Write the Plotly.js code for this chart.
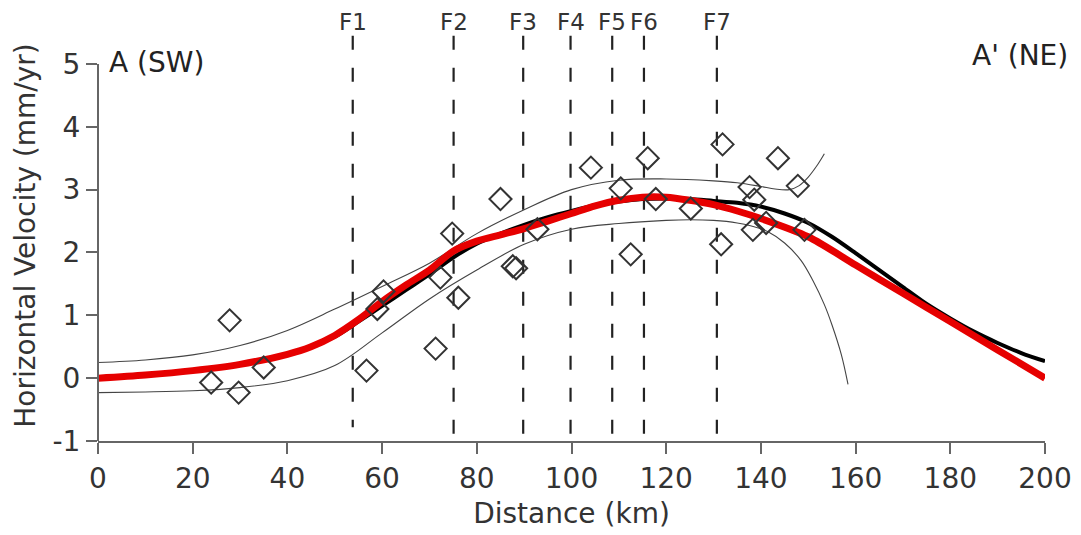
<!DOCTYPE html>
<html>
<head>
<meta charset="utf-8">
<script src="https://cdn.plot.ly/plotly-3.0.1.min.js"></script>
<style>html,body{margin:0;padding:0;background:#fff;}#chart{width:1081px;height:535px;}</style>
</head>
<body>
<div id="chart"></div>
<script>
// ---- data ----
var faultX = [53.8, 75.1, 89.8, 99.8, 108.6, 115.3, 130.7];
var faultLabels = ['F1', 'F2', 'F3', 'F4', 'F5', 'F6', 'F7'];
var faultBottom = [-0.78, -0.93, -0.93, -0.93, -0.93, -0.93, -0.93];
var faultTop = 5.45;

var obsX = [23.9, 27.8, 29.7, 35.0, 56.7, 59.0, 60.3, 71.3, 72.3, 74.8, 76.1, 85.0, 87.6, 88.3, 92.8, 104.1, 110.4, 112.5, 116.1, 117.8, 125.2, 131.6, 131.9, 137.6, 138.3, 138.6, 141.1, 143.6, 147.8, 149.2];
var obsY = [-0.07, 0.92, -0.23, 0.17, 0.12, 1.1, 1.38, 0.47, 1.6, 2.3, 1.28, 2.85, 1.78, 1.75, 2.37, 3.35, 3.02, 1.97, 3.5, 2.85, 2.7, 2.13, 3.72, 3.04, 2.36, 2.84, 2.47, 3.5, 3.06, 2.36];

var redX = [0, 10, 20, 30, 40, 45, 50, 55, 60, 65, 70, 75, 80, 85, 90, 95, 100, 105, 110, 115, 120, 125, 130, 135, 140, 150, 160, 170, 180, 190, 200];
var redY = [0, 0.05, 0.12, 0.22, 0.38, 0.5, 0.68, 0.93, 1.22, 1.48, 1.72, 2.02, 2.18, 2.28, 2.38, 2.5, 2.62, 2.74, 2.83, 2.88, 2.88, 2.83, 2.76, 2.66, 2.54, 2.25, 1.8, 1.35, 0.9, 0.45, 0];

var blackX = [0, 10, 20, 30, 40, 50, 55, 60, 65, 70, 75, 80, 85, 90, 95, 100, 105, 110, 115, 120, 125, 130, 135, 140, 145, 150, 155, 160, 165, 170, 175, 180, 185, 190, 195, 200];
var blackY = [0, 0.05, 0.12, 0.22, 0.38, 0.66, 0.9, 1.15, 1.4, 1.65, 1.92, 2.14, 2.3, 2.44, 2.56, 2.66, 2.75, 2.81, 2.85, 2.86, 2.85, 2.82, 2.79, 2.73, 2.62, 2.47, 2.25, 1.99, 1.72, 1.45, 1.18, 0.95, 0.74, 0.56, 0.4, 0.27];

var upX = [0, 10, 20, 30, 40, 50, 60, 70, 80, 90, 100, 110, 120, 130, 135, 140, 143, 146, 148, 150, 152, 153.4];
var upY = [0.25, 0.29, 0.37, 0.52, 0.76, 1.1, 1.46, 1.83, 2.3, 2.68, 3.0, 3.15, 3.17, 3.14, 3.11, 3.05, 3.01, 3.0, 3.06, 3.2, 3.4, 3.57];

var loX = [0, 10, 20, 30, 40, 50, 60, 70, 80, 90, 100, 110, 120, 125, 130, 135, 138, 141.5, 145, 148.5, 151, 153.4, 155, 157, 158.4];
var loY = [-0.23, -0.22, -0.2, -0.15, -0.04, 0.2, 0.72, 1.26, 1.72, 2.13, 2.37, 2.46, 2.51, 2.52, 2.51, 2.47, 2.42, 2.33, 2.15, 1.87, 1.55, 1.17, 0.85, 0.37, -0.1];

var xTicks = [0, 20, 40, 60, 80, 100, 120, 140, 160, 180, 200];
var yTicks = [-1, 0, 1, 2, 3, 4, 5];

// ---- traces ----
var FONT = 'DejaVu Sans, Arial, sans-serif';
var traces = [];
faultX.forEach(function (fx, i) {
  traces.push({
    x: [fx, fx], y: [faultTop, faultBottom[i]], mode: 'lines', type: 'scatter',
    line: {color: '#222', width: 2.2, dash: '14px,18px'}, hoverinfo: 'skip', showlegend: false
  });
});
traces.push({x: upX, y: upY, mode: 'lines', line: {color: '#444', width: 1.1, shape: 'spline', smoothing: 1}, showlegend: false});
traces.push({x: loX, y: loY, mode: 'lines', line: {color: '#444', width: 1.1, shape: 'spline', smoothing: 1}, showlegend: false});
traces.push({x: blackX, y: blackY, mode: 'lines', line: {color: '#000', width: 4, shape: 'spline', smoothing: 0.8}, showlegend: false});
traces.push({x: redX, y: redY, mode: 'lines', line: {color: '#e60000', width: 7, shape: 'spline', smoothing: 0.8}, showlegend: false});
traces.push({x: obsX, y: obsY, mode: 'markers', marker: {symbol: 'diamond-open', size: 17, color: '#333', line: {width: 2, color: '#333'}}, showlegend: false});

var annotations = faultX.map(function (fx, i) {
  return {x: fx, xref: 'x', y: 1.02, yref: 'paper', text: faultLabels[i], showarrow: false,
          xanchor: 'center', yanchor: 'middle', font: {family: FONT, size: 23, color: '#333'}};
});
annotations.push({x: 0.0095, xref: 'paper', y: 0.922, yref: 'paper', text: 'A (SW)', showarrow: false,
  xanchor: 'left', yanchor: 'middle', font: {family: FONT, size: 28, color: '#222'}});
annotations.push({x: 1.026, xref: 'paper', y: 0.937, yref: 'paper', text: "A' (NE)", showarrow: false,
  xanchor: 'right', yanchor: 'middle', font: {family: FONT, size: 28, color: '#222'}});

var layout = {
  width: 1081, height: 535,
  margin: {l: 98, r: 36, t: 30, b: 94, pad: 0},
  paper_bgcolor: '#fff', plot_bgcolor: '#fff',
  showlegend: false,
  font: {family: FONT, color: '#333'},
  xaxis: {
    range: [0, 200], tickvals: xTicks, ticktext: xTicks.map(String),
    showgrid: false, zeroline: false, showline: true, linecolor: '#666', linewidth: 2,
    ticks: 'outside', ticklen: 11, tickwidth: 2, tickcolor: '#666',
    tickfont: {family: FONT, size: 28, color: '#333'},
    title: {text: 'Distance (km)', font: {family: FONT, size: 28, color: '#333'}, standoff: 10},
    fixedrange: true
  },
  yaxis: {
    range: [-1, 5.54], tickvals: yTicks, ticktext: yTicks.map(String),
    showgrid: false, zeroline: false, showline: false,
    ticks: 'outside', ticklen: 11, tickwidth: 2, tickcolor: '#666',
    tickfont: {family: FONT, size: 28, color: '#333'},
    title: {text: 'Horizontal Velocity (mm/yr)', font: {family: FONT, size: 28, color: '#333'}, standoff: 8},
    fixedrange: true
  },
  shapes: [{type: 'line', xref: 'paper', yref: 'y', x0: 0, x1: 0, y0: -1, y1: 5,
            line: {color: '#666', width: 2}}],
  annotations: annotations
};

Plotly.newPlot('chart', traces, layout, {displayModeBar: false, staticPlot: true});
</script>
</body>
</html>
